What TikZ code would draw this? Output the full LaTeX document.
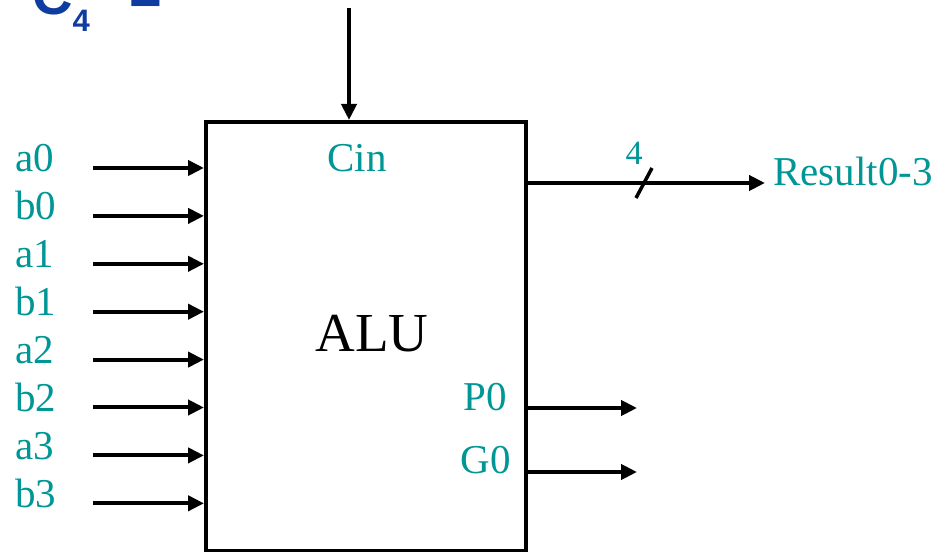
\documentclass[tikz,border=0pt]{standalone}
\usepackage{fontspec}
\setmainfont{Liberation Serif}
\newfontfamily\headfont{Liberation Sans}
\usepackage{xcolor}
\usetikzlibrary{arrows.meta,positioning}
\definecolor{sigteal}{RGB}{0,150,150}
\definecolor{headblue}{RGB}{15,60,160}

\begin{document}
\begin{tikzpicture}[x=1pt, y=1pt,
  sig/.style={text=sigteal, inner sep=0pt, font=\fontsize{41}{41}\selectfont},
  arr/.style={-{Triangle[length=16pt,width=15pt]}, line width=4pt},
  slash/.style={line width=3.5pt}
]
  \useasboundingbox (0,0) rectangle (952,551);
  % heading, cut off by the top edge
  \node[anchor=base west, inner sep=0pt, text=headblue,
    font=\headfont\bfseries\fontsize{56}{56}\selectfont] (head) at (32,536)
    {C\raisebox{-17pt}{\fontsize{31}{31}\selectfont 4}\hspace{40pt}=};

  \node[draw, line width=4pt, anchor=north west, minimum width=320pt,
    minimum height=429pt, inner sep=0pt] (alu) at (204,431) {};
  \node[inner sep=0pt, font=\fontsize{55}{55}\selectfont] (alutext) at (372,217) {ALU};

  \coordinate (cinsrc) at (349,543);
  \draw[arr] (cinsrc) -- (cinsrc |- alu.north);
  \node[sig, anchor=base] (cin) at (357,379) {Cin};

  \foreach \name [count=\i from 0] in {a0,b0,a1,b1,a2,b2,a3,b3} {
    \coordinate (in\i) at (93,{383-47.9*\i});
    \node[sig, anchor=base west] (lab\i) at (15,{379-47.9*\i}) {\name};
    \draw[arr] (in\i) -- (in\i -| alu.west);
  }

  \coordinate (resend) at (765,368);
  \draw[arr] (resend -| alu.east) -- (resend);
  \node[sig, anchor=base west] (result) at (773,365) {Result0-3};
  \coordinate (busmid) at (644,368);
  \draw[slash] ([shift={(-8,-15)}]busmid) -- ([shift={(8,15)}]busmid);
  \node[sig, anchor=base, font=\fontsize{34}{34}\selectfont] (width) at (634,386) {4};

  \coordinate (pend) at (637,143);
  \coordinate (gend) at (637,79);
  \draw[arr] (pend -| alu.east) -- (pend);
  \draw[arr] (gend -| alu.east) -- (gend);
  \node[sig, anchor=base east] (p0) at (507,140) {P0};
  \node[sig, anchor=base east] (g0) at (511,77) {G0};
\end{tikzpicture}
\end{document}
